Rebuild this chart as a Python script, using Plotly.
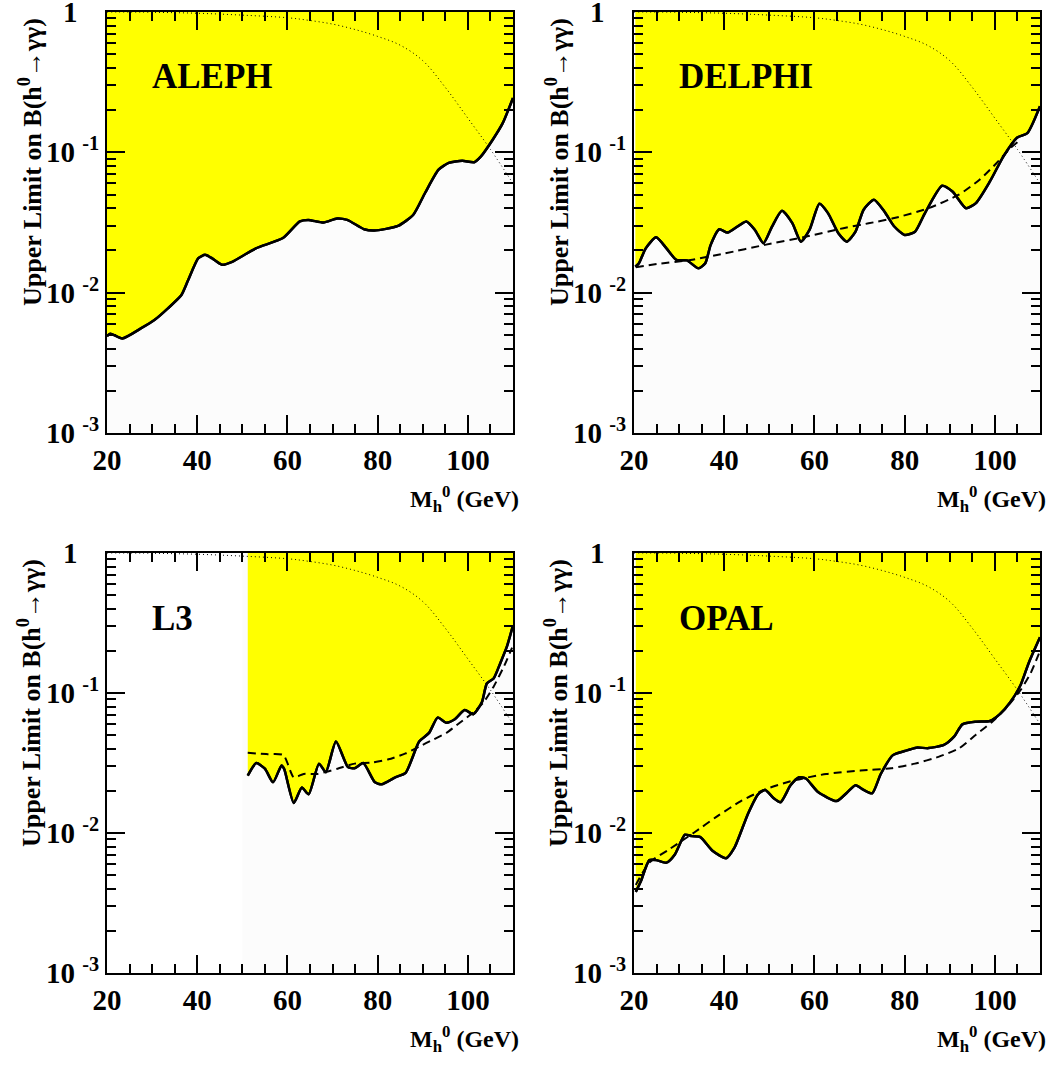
import plotly.graph_objects as go

# ---------------- data ----------------
mass_range = [20, 110]
theory_mass = [20, 30, 40, 50, 60, 65, 70, 75, 80, 85, 90, 95, 100, 105, 110]
theory_br = [1.0, 0.995, 0.98, 0.95, 0.91, 0.87, 0.82, 0.75, 0.67, 0.58, 0.45, 0.29, 0.175, 0.105, 0.06]

aleph_mass = [20.0, 20.75, 23.4, 27.5, 30.5, 33.5, 36.5, 38.0, 40.25, 41.75, 43.25, 45.5, 47.75, 53.0,
              59.0, 62.75, 64.6, 68.0, 71.0, 73.25, 77.0, 79.25, 84.5, 87.9, 90.5, 93.5, 95.75, 98.75,
              101.4, 102.9, 105.5, 107.75, 110.0]
aleph_obs = [0.0049, 0.0051, 0.00472, 0.00556, 0.00638, 0.00773, 0.00962, 0.0123, 0.0176, 0.0186,
             0.0176, 0.0158, 0.0166, 0.0207, 0.0245, 0.0322, 0.033, 0.0316, 0.0338, 0.033, 0.0283,
             0.0277, 0.0299, 0.0359, 0.0513, 0.0752, 0.084, 0.087, 0.085, 0.0936, 0.123, 0.162, 0.244]

delphi_mass = [20.3, 21.1, 22.6, 24.9, 27.2, 29.4, 31.7, 34.3, 35.8, 37.0, 38.9, 40.75, 44.9, 46.8, 48.7,
               50.6, 52.8, 55.1, 57.0, 58.9, 61.1, 63.0, 65.3, 67.2, 69.1, 70.9, 73.2, 75.5, 77.7, 80.0,
               82.3, 84.5, 88.3, 90.6, 93.6, 95.8, 98.9, 101.9, 104.9, 107.2, 110.0]
delphi_obs = [0.0153, 0.0162, 0.0207, 0.0248, 0.0207, 0.0171, 0.017, 0.0149, 0.0162, 0.0219, 0.0283,
              0.0268, 0.0322, 0.028, 0.0225, 0.0296, 0.0383, 0.0313, 0.0231, 0.028, 0.043, 0.0369,
              0.0265, 0.0231, 0.0272, 0.039, 0.0459, 0.0379, 0.0296, 0.0258, 0.0272, 0.0369, 0.0578,
              0.0526, 0.040, 0.0435, 0.062, 0.0936, 0.127, 0.137, 0.213]
delphi_exp_mass = [20.4, 25, 32.5, 40, 49, 58, 66.4, 72, 77.7, 85.3, 92, 96.6, 100.4, 103.4, 105]
delphi_exp = [0.0152, 0.0160, 0.0171, 0.0190, 0.0219, 0.0250, 0.0288, 0.0312, 0.034, 0.040, 0.0499,
              0.0638, 0.084, 0.107, 0.118]

l3_mass_start = 50
l3_mass = [51.2, 53.1, 55.0, 56.8, 58.7, 59.3, 61.4, 63.2, 64.7, 67.0, 68.5, 70.75, 73.4, 74.9, 76.8,
           79.4, 80.9, 83.9, 86.2, 89.2, 91.4, 93.3, 95.2, 97.1, 99.3, 101.2, 103.1, 104.2, 105.7,
           107.2, 108.7, 110.0]
l3_obs = [0.0257, 0.0316, 0.0288, 0.023, 0.0304, 0.0285, 0.0164, 0.0211, 0.0189, 0.0313, 0.0272,
          0.045, 0.0296, 0.029, 0.0316, 0.023, 0.0223, 0.025, 0.0269, 0.045, 0.0519, 0.0667, 0.0613,
          0.0649, 0.0755, 0.0706, 0.0859, 0.117, 0.127, 0.164, 0.217, 0.304]
l3_exp_mass = [51.2, 55.3, 59.1, 61.4, 63.6, 66.6, 71.1, 74.9, 78.6, 82.4, 86.2, 89.2, 92.2, 95.2,
               98.2, 101.2, 103.5, 105.7, 108.0, 109.8]
l3_exp = [0.0374, 0.0366, 0.036, 0.025, 0.0264, 0.0264, 0.0288, 0.0313, 0.0318, 0.0336, 0.037,
          0.0414, 0.0463, 0.0518, 0.0613, 0.0726, 0.0859, 0.111, 0.155, 0.211]

opal_mass = [20.4, 21.5, 23.4, 24.9, 27.2, 29.1, 31.3, 32.8, 34.7, 37.4, 40.4, 42.3, 45.3, 47.5, 49.1,
             50.9, 52.5, 54.7, 56.6, 58.1, 60.8, 64.9, 67.2, 69.1, 70.9, 72.8, 74.7, 77.4, 80.0, 82.6,
             85.3, 88.7, 91.0, 92.8, 95.8, 98.9, 101.1, 103.4, 105.7, 107.5, 110.0]
opal_obs = [0.0038, 0.0045, 0.0064, 0.0064, 0.00614, 0.00706, 0.00972, 0.0095, 0.00935, 0.00747,
            0.0066, 0.0079, 0.0138, 0.0189, 0.0203, 0.0178, 0.0166, 0.0219, 0.025, 0.0245, 0.0196,
            0.0169, 0.0194, 0.0219, 0.0203, 0.0192, 0.0264, 0.036, 0.0385, 0.0407, 0.0404, 0.0426,
            0.049, 0.0597, 0.0624, 0.0631, 0.0706, 0.0859, 0.114, 0.164, 0.25]
opal_exp_mass = [20.4, 23.4, 27.9, 33.2, 38.5, 43.7, 49.1, 55.1, 62.6, 70.2, 77.0, 82.3, 87.5, 92.1,
                 95.8, 99.6, 102.6, 105.7, 107.9, 110.0]
opal_exp = [0.00426, 0.00614, 0.00768, 0.0100, 0.0132, 0.0169, 0.0205, 0.0236, 0.0264, 0.0279, 0.029,
            0.0313, 0.035, 0.0403, 0.0504, 0.0631, 0.079, 0.105, 0.138, 0.2]

experiments = ["ALEPH", "DELPHI", "L3", "OPAL"]
x_major = [20, 40, 60, 80, 100]
x_minor = [25, 30, 35, 45, 50, 55, 65, 70, 75, 85, 90, 95, 105, 110]
y_major = [0.001, 0.01, 0.1, 1]
y_major_text = ["10\u00a0<sup>-3</sup>", "10\u00a0<sup>-2</sup>", "10\u00a0<sup>-1</sup>", "1\u00a0\u00a0\u00a0"]
y_minor = [m * 10 ** e for e in (-3, -2, -1) for m in range(2, 10)]

# ---------------- styling ----------------
W, H = 1053, 1065
FONT = "Liberation Serif"
YELLOW = "#ffff00"
LOWER = "#fcfcfc"

panels = {
    "ALEPH": dict(ax="", px=(107, 513), py=(12, 433)),
    "DELPHI": dict(ax="2", px=(634, 1040), py=(12, 433)),
    "L3": dict(ax="3", px=(107, 513), py=(553, 973)),
    "OPAL": dict(ax="4", px=(634, 1040), py=(553, 973)),
}

series = {
    "ALEPH": (aleph_mass, aleph_obs, None, None),
    "DELPHI": (delphi_mass, delphi_obs, delphi_exp_mass, delphi_exp),
    "L3": (l3_mass, l3_obs, l3_exp_mass, l3_exp),
    "OPAL": (opal_mass, opal_obs, opal_exp_mass, opal_exp),
}

fig = go.Figure()
layout = dict(width=W, height=H, margin=dict(l=0, r=0, t=0, b=0),
              paper_bgcolor="white", plot_bgcolor=LOWER, showlegend=False)
annotations = []

for name in experiments:
    p = panels[name]
    ax = p["ax"]
    xr, yr = "x" + ax, "y" + ax
    mass, obs, emass, exp = series[name]

    if name == "L3":
        # region not covered by the L3 search is left blank
        fig.add_trace(go.Scatter(x=[mass_range[0], l3_mass_start, l3_mass_start, mass_range[0]],
                                 y=[y_major[0], y_major[0], y_major[-1], y_major[-1]],
                                 fill="toself", fillcolor="white", mode="lines",
                                 line=dict(width=0), xaxis=xr, yaxis=yr, hoverinfo="skip"))
    # upper boundary (B = 1)
    fig.add_trace(go.Scatter(x=[mass[0], mass[-1]], y=[y_major[-1], y_major[-1]], mode="lines",
                             line=dict(width=0), xaxis=xr, yaxis=yr, hoverinfo="skip"))
    # excluded region (yellow) bounded by the observed limit
    fig.add_trace(go.Scatter(x=mass, y=obs, mode="lines", fill="tonexty", fillcolor=YELLOW,
                             line=dict(color="black", width=2.5, shape="spline", smoothing=0.6),
                             xaxis=xr, yaxis=yr))
    # theory curve (dotted)
    fig.add_trace(go.Scatter(x=theory_mass, y=theory_br, mode="lines",
                             line=dict(color="black", width=1, dash="1px,3px", shape="spline"),
                             xaxis=xr, yaxis=yr))
    if emass is not None:
        fig.add_trace(go.Scatter(x=emass, y=exp, mode="lines",
                                 line=dict(color="black", width=2, dash="8px,5px", shape="spline",
                                           smoothing=0.6),
                                 xaxis=xr, yaxis=yr))
    # observed line on top
    fig.add_trace(go.Scatter(x=mass, y=obs, mode="lines",
                             line=dict(color="black", width=2.5, shape="spline", smoothing=0.6),
                             xaxis=xr, yaxis=yr))

    x0, x1 = p["px"]
    yt, yb = p["py"]
    tickfont = dict(family=FONT, size=29, color="black", weight="bold")
    layout["xaxis" + ax] = dict(
        domain=[x0 / W, x1 / W], anchor=yr, range=mass_range, tickmode="array", tickvals=x_major,
        ticktext=[str(v) for v in x_major], ticks="inside", ticklen=18, tickwidth=1.5,
        tickcolor="black", mirror="allticks", showline=True, linecolor="black", linewidth=2,
        showgrid=False, zeroline=False, tickfont=tickfont, automargin=False, ticklabelstandoff=0,
        ticklabeloverflow="allow",
        minor=dict(tickmode="array", tickvals=x_minor, ticks="inside", ticklen=9, tickwidth=1.5,
                   tickcolor="black", showgrid=False))
    layout["yaxis" + ax] = dict(
        domain=[(H - yb) / H, (H - yt) / H], anchor=xr, type="log", range=[-3, 0],
        tickmode="array", tickvals=y_major, ticktext=y_major_text, ticks="inside", ticklen=18,
        tickwidth=1.5, tickcolor="black", mirror="allticks", showline=True, linecolor="black",
        linewidth=2, showgrid=False, zeroline=False, tickfont=tickfont, automargin=False,
        ticklabeloverflow="allow",
        minor=dict(tickmode="array", tickvals=y_minor, ticks="inside", ticklen=9, tickwidth=1.5,
                   tickcolor="black", showgrid=False))

    # experiment label
    annotations.append(dict(text="<b>%s</b>" % name, xref="paper", yref="paper",
                            x=(x0 + 43) / W, y=(H - (yt + 65)) / H, xanchor="left",
                            yanchor="middle", showarrow=False,
                            font=dict(family=FONT, size=35, color="black")))
    # x-axis title
    annotations.append(dict(text="<b>M<sub>h</sub><sup>0</sup> (GeV)</b>", xref="paper",
                            yref="paper", x=(x1 + 8) / W, y=(H - (yb + 66)) / H,
                            xanchor="right", yanchor="middle", showarrow=False,
                            font=dict(family=FONT, size=24, color="black")))
    # y-axis title
    annotations.append(dict(text="<b>Upper Limit on B(h<sup>0</sup>\u2192\u03b3\u03b3)</b>",
                            xref="paper", yref="paper", x=(x0 - 77) / W, y=(H - (yt + 150)) / H,
                            xanchor="center", yanchor="middle", textangle=-90, showarrow=False,
                            font=dict(family=FONT, size=26, color="black")))

layout["annotations"] = annotations
fig.update_layout(**layout)
fig.write_html("out.html")
